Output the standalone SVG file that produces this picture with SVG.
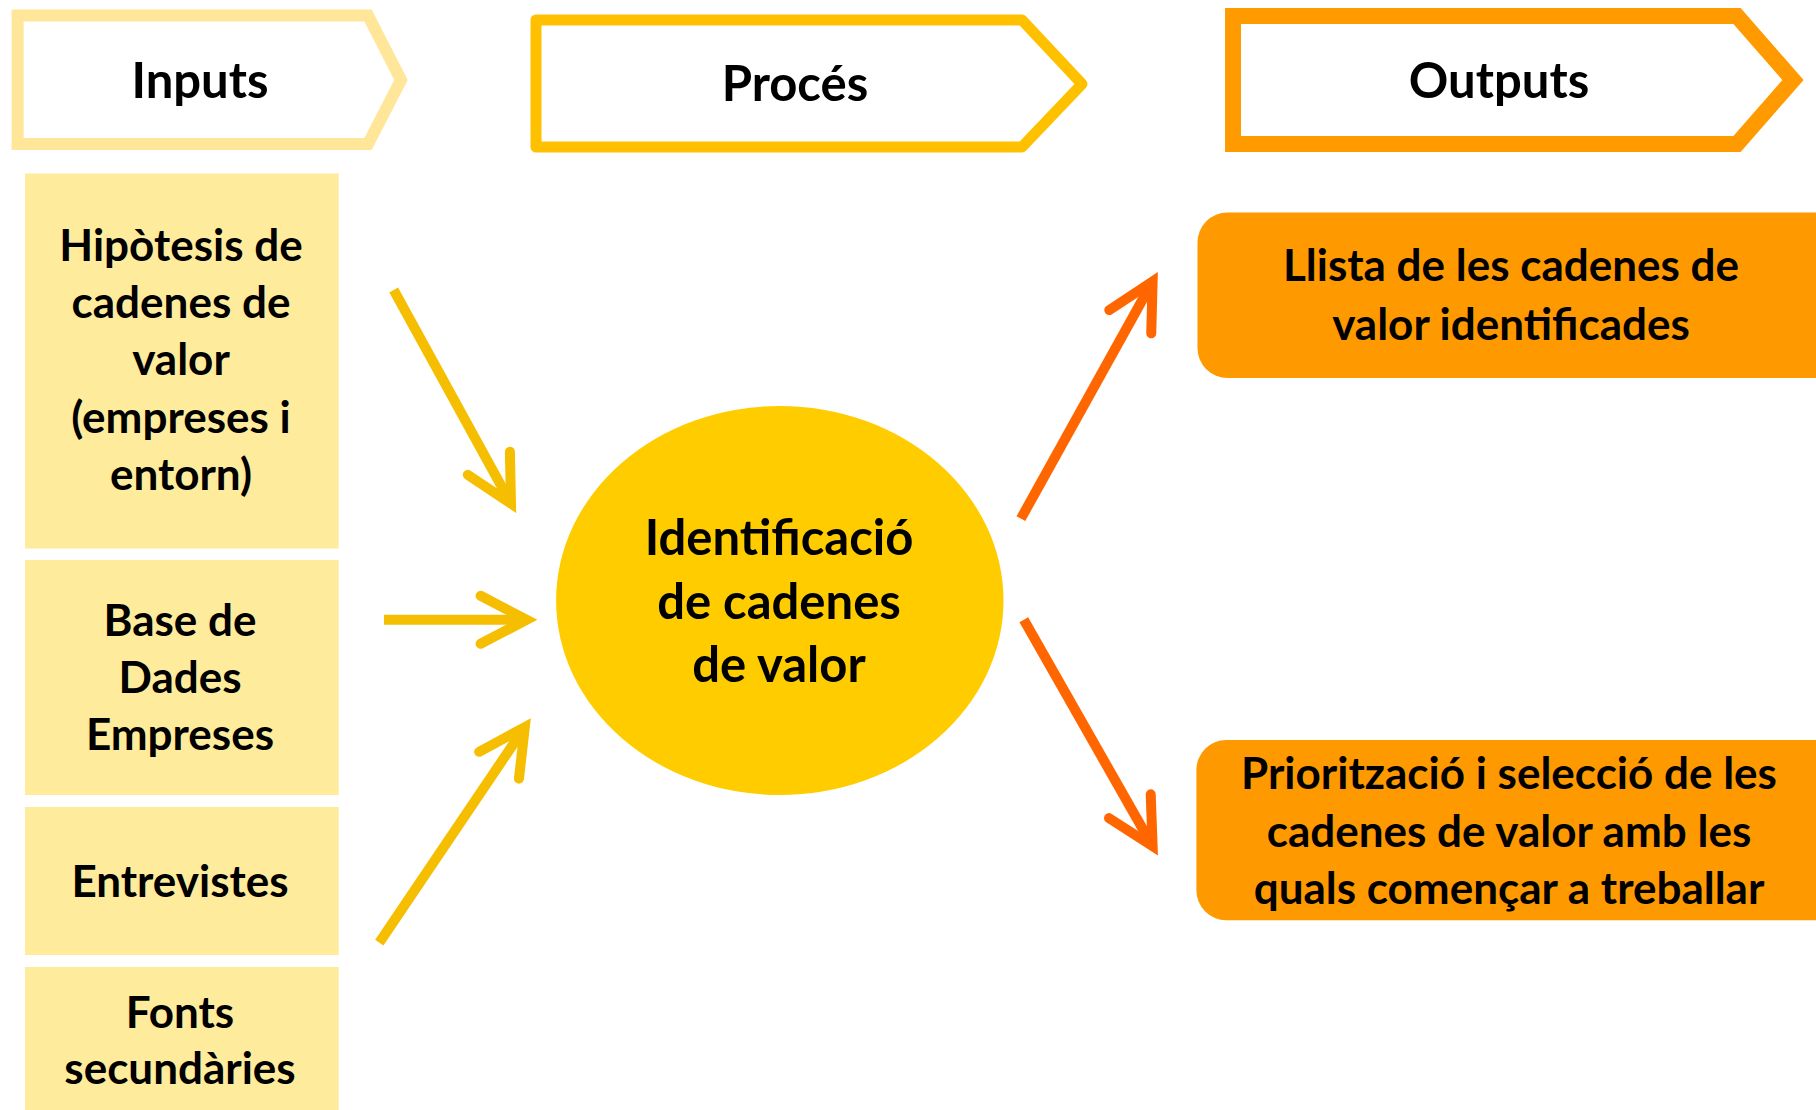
<svg xmlns="http://www.w3.org/2000/svg" width="1816" height="1110" viewBox="0 0 1816 1110">
<style>
text{font-family:Lato,"Open Sans","Liberation Sans",sans-serif;font-weight:bold;fill:#000;text-anchor:middle}
.hdr{font-size:49px}
.in{font-size:44px}
.mid{font-size:49px}
.out{font-size:44px}
.inbox{fill:#FFEB9C}
.outbox{fill:#FF9900}
.ya{stroke:#F6BE00;stroke-width:10;fill:none}
.oa{stroke:#FF6600;stroke-width:10;fill:none}
</style>
<defs>
<marker id="hy" markerUnits="userSpaceOnUse" orient="auto" markerWidth="80" markerHeight="80" refX="0" refY="0" viewBox="-60 -40 80 80" overflow="visible">
<path d="M-46,-24 L0,0 L-46,24" fill="none" stroke="#F6BE00" stroke-width="10" stroke-linecap="round" stroke-linejoin="miter"/>
</marker>
<marker id="ho" markerUnits="userSpaceOnUse" orient="auto" markerWidth="80" markerHeight="80" refX="0" refY="0" viewBox="-60 -40 80 80" overflow="visible">
<path d="M-46,-24 L0,0 L-46,24" fill="none" stroke="#FF6600" stroke-width="10" stroke-linecap="round" stroke-linejoin="miter"/>
</marker>
</defs>
<rect width="1816" height="1110" fill="#fff"/>

<g id="hdr-inputs">
<polygon points="17.6,15.6 368,15.6 401,80 368,144 17.6,144" fill="#fff" stroke="#FFE699" stroke-width="12"/>
<text class="hdr" x="200" y="98">Inputs</text>
</g>
<g id="hdr-proces">
<polygon points="536,20 1022,20 1082,84 1022,147 536,147" fill="#fff" stroke="#FFC000" stroke-width="11" stroke-linejoin="round"/>
<text class="hdr" x="795" y="101">Procés</text>
</g>
<g id="hdr-outputs">
<polygon points="1233,16 1737,16 1793,80 1737,144 1233,144" fill="#fff" stroke="#FF9A00" stroke-width="16"/>
<text class="hdr" x="1499" y="98">Outputs</text>
</g>

<g id="in-hipotesis">
<rect class="inbox" x="25" y="173.5" width="313.7" height="375"/>
<text class="in" x="181" y="261">Hipòtesis de</text>
<text class="in" x="181" y="318">cadenes de</text>
<text class="in" x="181" y="375">valor</text>
<text class="in" x="181" y="433">(empreses i</text>
<text class="in" x="181" y="490">entorn)</text>
</g>
<g id="in-base">
<rect class="inbox" x="25" y="560" width="313.7" height="235"/>
<text class="in" x="180" y="636">Base de</text>
<text class="in" x="180" y="693">Dades</text>
<text class="in" x="180" y="750">Empreses</text>
</g>
<g id="in-entrevistes">
<rect class="inbox" x="25" y="807" width="313.7" height="148"/>
<text class="in" x="180" y="897">Entrevistes</text>
</g>
<g id="in-fonts">
<rect class="inbox" x="25" y="967" width="313.7" height="143"/>
<text class="in" x="180" y="1028">Fonts</text>
<text class="in" x="180" y="1084">secundàries</text>
</g>

<g id="proces">
<ellipse cx="779.8" cy="600.5" rx="223.7" ry="194.5" fill="#FFCC00"/>
<text class="mid" x="779" y="555">Identificació</text>
<text class="mid" x="779" y="619">de cadenes</text>
<text class="mid" x="779" y="682">de valor</text>
</g>

<g id="out-llista">
<rect class="outbox" x="1197.5" y="212.4" width="660" height="165.6" rx="30"/>
<text class="out" x="1511" y="281">Llista de les cadenes de</text>
<text class="out" x="1511" y="340">valor identificades</text>
</g>
<g id="out-prioritzacio">
<rect class="outbox" x="1196.4" y="740" width="660" height="180.3" rx="30"/>
<text class="out" x="1509" y="789">Priorització i selecció de les</text>
<text class="out" x="1509" y="847">cadenes de valor amb les</text>
<text class="out" x="1509" y="904">quals començar a treballar</text>
</g>

<g id="connectors">
<path class="ya" d="M393.7,290 L511,503.6" marker-end="url(#hy)"/>
<path class="ya" d="M384,619.8 L526.6,619.8" marker-end="url(#hy)"/>
<path class="ya" d="M379.3,942.6 L524.8,727.1" marker-end="url(#hy)"/>
<path class="oa" d="M1020.9,518.6 L1152.6,281.5" marker-end="url(#ho)"/>
<path class="oa" d="M1023.8,619.8 L1152.6,846.2" marker-end="url(#ho)"/>
</g>
</svg>
